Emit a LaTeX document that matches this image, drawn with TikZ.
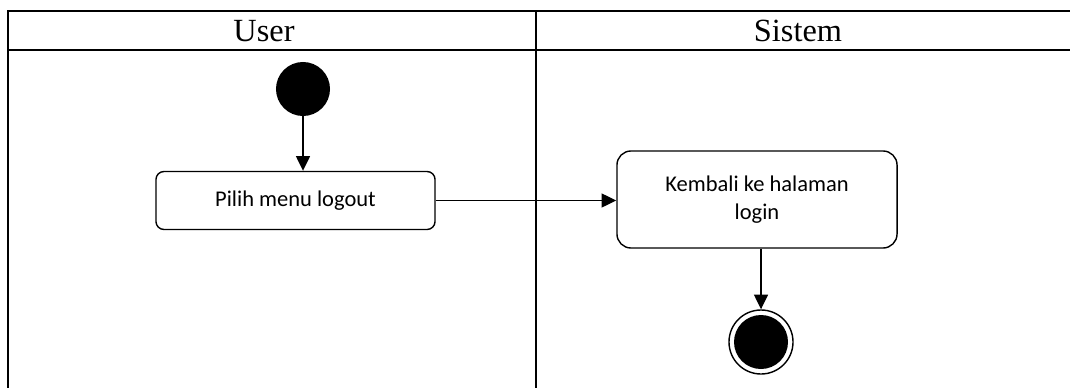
\documentclass[tikz,border=0pt]{standalone}
\usepackage{fontspec}
\setmainfont{Liberation Serif}
\newfontfamily\actfont{Carlito}
\usetikzlibrary{arrows.meta}

\begin{document}
\begin{tikzpicture}[x=0.025cm,y=-0.025cm]
\tikzstyle{lane}=[line width=0.8pt]
\tikzstyle{action}=[draw, line width=1pt, fill=white, font=\actfont\fontsize{16}{20}\selectfont, align=center, inner sep=0pt]
\tikzstyle{flow}=[line width=1pt, -{Triangle[length=10.5pt,width=10pt]}]
\useasboundingbox (0,0) rectangle (1070,388);

% swimlanes
\draw [lane] (1070,11) -- (8,11) -- (8,388);
\draw [lane] (8,50) -- (1070,50);
\draw [lane] (536,11) -- (536,388);
\node [font=\fontsize{23}{26}\selectfont, anchor=base] (user) at (264,42) {User};
\node [font=\fontsize{23}{26}\selectfont, anchor=base] (sistem) at (798,42) {Sistem};

% states
\node [circle, fill, minimum size=1.35cm, inner sep=0pt] (start) at (303,89) {};
\node [action, rounded corners=0.2cm, minimum width=6.975cm, minimum height=1.45cm] (logout) at (295.5,200.5) {Pilih menu logout};
\node [action, rounded corners=0.35cm, minimum width=7cm, minimum height=2.425cm] (kembali) at (757,199.5) {Kembali ke halaman\\login};
\node [circle, draw, line width=1pt, minimum size=1.6cm, inner sep=0pt] (end) at (761,342) {};
\fill (end.center) circle (27);

% transitions
\draw [flow] (start) -- (start |- logout.north);
\draw [flow] (logout) -- (logout -| kembali.west);
\draw [flow] (kembali.south -| end) -- (end);
\end{tikzpicture}
\end{document}
